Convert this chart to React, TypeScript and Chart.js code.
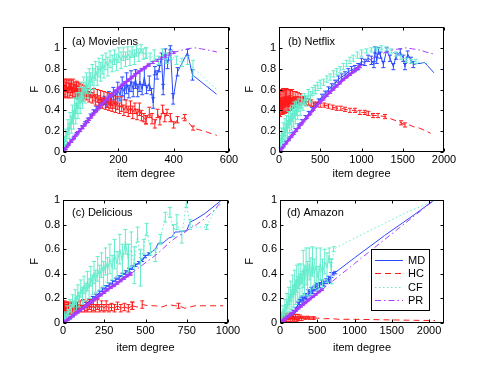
import React, { useEffect, useRef } from "react";
import { Chart, registerables } from "chart.js";

Chart.register(...registerables);

type Row = [number, number, number]; // [item degree, F, error half-width]

// ---------------- (a) Movielens ----------------
const movielensMD: Row[] = [
  [2, 0.01, 0.005], [10, 0.035, 0.01], [20, 0.07, 0.01], [30, 0.105, 0.01], [40, 0.14, 0.012], [50, 0.175, 0.012],
  [60, 0.21, 0.015], [70, 0.24, 0.015], [80, 0.275, 0.015], [90, 0.305, 0.02], [100, 0.345, 0.02], [110, 0.385, 0.02],
  [120, 0.415, 0.025], [130, 0.445, 0.03], [140, 0.475, 0.03], [150, 0.495, 0.04], [158, 0.47, 0.04], [166, 0.53, 0.05],
  [174, 0.5, 0.05], [182, 0.56, 0.06], [190, 0.53, 0.06], [198, 0.59, 0.08], [206, 0.55, 0.06], [214, 0.63, 0.09],
  [222, 0.57, 0.07], [230, 0.66, 0.1], [238, 0.58, 0.06], [246, 0.68, 0.1], [254, 0.6, 0.07], [262, 0.7, 0.09],
  [270, 0.59, 0.06], [278, 0.68, 0.1], [286, 0.6, 0.05], [294, 0.72, 0.08], [302, 0.6, 0.04], [312, 0.66, 0.07],
  [320, 0.58, 0.03], [326, 0.47, 0.05], [332, 0.78, 0.04], [340, 0.74, 0.04], [348, 0.8, 0.03], [356, 0.92, 0.03],
  [362, 0.6, 0.05], [370, 0.96, 0.03], [378, 0.84, 0.04], [388, 1.0, 0.02], [398, 0.51, 0.05], [414, 0.77, 0.04],
  [450, 0.955, 0.03], [468, 0.74, 0.05], [555, 0.555, 0],
];
const movielensHC: Row[] = [
  [1, 0.62, 0.07], [4, 0.58, 0.06], [7, 0.65, 0.05], [10, 0.6, 0.07], [13, 0.64, 0.06], [16, 0.57, 0.05],
  [19, 0.63, 0.06], [22, 0.59, 0.07], [25, 0.65, 0.05], [28, 0.6, 0.06], [31, 0.63, 0.06], [34, 0.57, 0.05],
  [37, 0.64, 0.06], [40, 0.59, 0.06], [43, 0.62, 0.05], [46, 0.58, 0.06], [49, 0.63, 0.05], [52, 0.57, 0.06],
  [55, 0.61, 0.06], [58, 0.56, 0.05], [61, 0.6, 0.06], [64, 0.57, 0.05], [67, 0.6, 0.05], [70, 0.55, 0.06],
  [74, 0.59, 0.05], [78, 0.56, 0.05], [82, 0.58, 0.05], [86, 0.54, 0.04], [90, 0.57, 0.04], [95, 0.53, 0.05],
  [100, 0.56, 0.04], [106, 0.52, 0.05], [112, 0.55, 0.06], [118, 0.5, 0.05], [124, 0.54, 0.06], [130, 0.49, 0.05],
  [136, 0.53, 0.06], [142, 0.47, 0.05], [148, 0.52, 0.06], [154, 0.46, 0.05], [160, 0.5, 0.07], [166, 0.45, 0.05],
  [172, 0.49, 0.07], [178, 0.44, 0.05], [184, 0.48, 0.06], [190, 0.43, 0.05], [196, 0.47, 0.06], [204, 0.42, 0.05],
  [212, 0.46, 0.07], [220, 0.4, 0.05], [228, 0.44, 0.06], [236, 0.39, 0.05], [244, 0.43, 0.06], [252, 0.38, 0.06],
  [260, 0.42, 0.05], [268, 0.36, 0.05], [276, 0.41, 0.06], [284, 0.35, 0.05], [292, 0.33, 0.04], [300, 0.31, 0.04],
  [312, 0.38, 0.05], [322, 0.32, 0.05], [332, 0.27, 0.04], [342, 0.37, 0.04], [350, 0.3, 0.04], [360, 0.41, 0.04],
  [368, 0.33, 0.04], [376, 0.38, 0.03], [388, 0.33, 0.04], [400, 0.26, 0.03], [414, 0.31, 0.03], [440, 0.33, 0.03],
  [470, 0.23, 0.02], [510, 0.2, 0], [556, 0.16, 0],
];
const movielensCF: Row[] = [
  [2, 0.03, 0.02], [6, 0.1, 0.05], [10, 0.16, 0.06], [14, 0.13, 0.06], [18, 0.24, 0.07], [22, 0.2, 0.07],
  [26, 0.3, 0.08], [30, 0.26, 0.08], [34, 0.36, 0.09], [38, 0.31, 0.09], [42, 0.42, 0.1], [46, 0.37, 0.1],
  [50, 0.47, 0.1], [54, 0.42, 0.1], [58, 0.52, 0.1], [62, 0.47, 0.1], [66, 0.57, 0.1], [70, 0.52, 0.1],
  [75, 0.62, 0.1], [80, 0.57, 0.1], [85, 0.66, 0.1], [90, 0.62, 0.1], [95, 0.7, 0.1], [100, 0.66, 0.1],
  [106, 0.74, 0.1], [112, 0.7, 0.1], [118, 0.78, 0.09], [124, 0.73, 0.09], [130, 0.81, 0.09], [136, 0.77, 0.09],
  [142, 0.84, 0.09], [148, 0.8, 0.09], [155, 0.87, 0.08], [162, 0.82, 0.09], [170, 0.89, 0.08], [178, 0.85, 0.08],
  [186, 0.91, 0.07], [194, 0.86, 0.08], [202, 0.93, 0.07], [210, 0.88, 0.08], [218, 0.94, 0.06], [226, 0.89, 0.07],
  [234, 0.95, 0.06], [242, 0.9, 0.07], [250, 0.96, 0.05], [258, 0.91, 0.07], [266, 0.97, 0.05], [274, 0.93, 0.06],
  [282, 0.99, 0.04], [290, 0.94, 0.05], [300, 0.95, 0.05], [315, 0.9, 0.05], [330, 0.93, 0.05], [345, 0.88, 0.04],
  [360, 0.94, 0.05], [375, 0.9, 0.05], [390, 0.93, 0.04], [410, 0.88, 0.04], [430, 0.86, 0.04], [450, 0.88, 0.04],
  [470, 0.8, 0.08], [500, 0.74, 0], [530, 0.66, 0], [556, 0.6, 0],
];
const movielensPR: Row[] = [
  [1, 0.005, 0.01], [8, 0.03, 0.01], [15, 0.055, 0.01], [22, 0.08, 0.012], [30, 0.105, 0.012], [38, 0.13, 0.012],
  [46, 0.16, 0.012], [54, 0.185, 0.012], [62, 0.21, 0.012], [70, 0.235, 0.012], [78, 0.26, 0.012], [86, 0.29, 0.012],
  [94, 0.315, 0.012], [102, 0.34, 0.012], [110, 0.365, 0.012], [118, 0.39, 0.012], [126, 0.415, 0.012], [134, 0.44, 0.012],
  [142, 0.46, 0.012], [150, 0.485, 0.012], [160, 0.51, 0.012], [170, 0.535, 0.012], [180, 0.56, 0.012], [190, 0.585, 0.012],
  [200, 0.61, 0.012], [212, 0.64, 0.012], [224, 0.665, 0.012], [236, 0.69, 0.012], [248, 0.715, 0.012], [260, 0.74, 0.012],
  [272, 0.765, 0.012], [284, 0.79, 0.012], [296, 0.81, 0.012], [310, 0.835, 0.01], [325, 0.86, 0.01], [340, 0.88, 0.01],
  [355, 0.9, 0.01], [370, 0.92, 0.01], [385, 0.94, 0.01], [400, 0.955, 0.01], [420, 0.97, 0], [440, 0.985, 0],
  [460, 0.995, 0], [480, 1.0, 0], [500, 0.99, 0], [520, 0.98, 0], [540, 0.97, 0], [556, 0.96, 0],
];

// ---------------- (b) Netflix ----------------
const netflixMD: Row[] = [
  [1, 0.005, 0.01], [40, 0.045, 0.01], [80, 0.09, 0.012], [120, 0.13, 0.015], [160, 0.17, 0.015], [200, 0.21, 0.015],
  [240, 0.25, 0.02], [280, 0.29, 0.02], [320, 0.33, 0.02], [360, 0.37, 0.02], [400, 0.41, 0.02], [440, 0.45, 0.02],
  [480, 0.49, 0.02], [520, 0.53, 0.025], [560, 0.56, 0.025], [600, 0.6, 0.025], [640, 0.63, 0.025], [680, 0.66, 0.03],
  [720, 0.7, 0.03], [760, 0.72, 0.03], [800, 0.74, 0.03], [840, 0.77, 0.03], [880, 0.79, 0.03], [920, 0.8, 0.03],
  [960, 0.82, 0.03], [1000, 0.87, 0.03], [1040, 0.86, 0.03], [1080, 0.9, 0.03], [1120, 0.88, 0.04], [1150, 0.84, 0.03],
  [1165, 0.98, 0.03], [1185, 0.88, 0.03], [1205, 0.97, 0.03], [1230, 0.93, 0.03], [1265, 0.84, 0.03], [1305, 0.98, 0.02],
  [1345, 0.9, 0.03], [1386, 0.82, 0.03], [1420, 0.92, 0.03], [1470, 0.96, 0.03], [1507, 0.9, 0.03], [1527, 0.82, 0.03],
  [1560, 0.94, 0.03], [1600, 0.88, 0.03], [1628, 0.84, 0.03], [1680, 0.85, 0], [1709, 0.85, 0], [1760, 0.86, 0],
  [1800, 0.83, 0], [1878, 0.76, 0],
];
const netflixHC: Row[] = [
  [1, 0.45, 0.1], [8, 0.5, 0.09], [15, 0.42, 0.08], [22, 0.52, 0.08], [29, 0.44, 0.08], [36, 0.5, 0.08],
  [43, 0.43, 0.07], [50, 0.53, 0.08], [57, 0.45, 0.07], [64, 0.51, 0.08], [71, 0.44, 0.07], [78, 0.52, 0.08],
  [85, 0.46, 0.07], [92, 0.53, 0.08], [100, 0.45, 0.07], [108, 0.52, 0.08], [116, 0.46, 0.07], [124, 0.53, 0.07],
  [132, 0.47, 0.07], [140, 0.52, 0.07], [150, 0.46, 0.06], [160, 0.53, 0.07], [170, 0.47, 0.05], [180, 0.52, 0.06],
  [192, 0.48, 0.05], [204, 0.53, 0.05], [216, 0.48, 0.05], [230, 0.52, 0.05], [245, 0.49, 0.04], [260, 0.52, 0.04],
  [280, 0.49, 0.03], [300, 0.5, 0.03], [330, 0.48, 0.03], [360, 0.48, 0.03], [390, 0.47, 0.03], [420, 0.46, 0.02],
  [460, 0.46, 0.02], [500, 0.45, 0.02], [550, 0.45, 0.02], [600, 0.44, 0.02], [650, 0.43, 0.02], [700, 0.42, 0.02],
  [750, 0.42, 0.02], [800, 0.41, 0.02], [860, 0.4, 0.02], [921, 0.4, 0.02], [980, 0.38, 0.02], [1040, 0.38, 0.02],
  [1083, 0.37, 0.02], [1140, 0.35, 0.02], [1200, 0.35, 0.02], [1285, 0.34, 0.02], [1350, 0.32, 0], [1420, 0.3, 0],
  [1480, 0.28, 0.02], [1527, 0.26, 0.02], [1580, 0.26, 0], [1640, 0.24, 0], [1700, 0.23, 0], [1760, 0.21, 0],
  [1838, 0.18, 0],
];
const netflixCF: Row[] = [
  [2, 0.03, 0.03], [12, 0.1, 0.06], [22, 0.07, 0.06], [32, 0.16, 0.07], [42, 0.11, 0.07], [52, 0.2, 0.08],
  [62, 0.15, 0.07], [72, 0.24, 0.08], [82, 0.19, 0.08], [92, 0.27, 0.08], [102, 0.22, 0.08], [114, 0.31, 0.08],
  [126, 0.26, 0.08], [138, 0.34, 0.08], [150, 0.29, 0.08], [162, 0.37, 0.08], [174, 0.32, 0.08], [186, 0.4, 0.08],
  [198, 0.35, 0.08], [212, 0.42, 0.07], [226, 0.38, 0.07], [240, 0.45, 0.06], [256, 0.41, 0.06], [272, 0.48, 0.06],
  [290, 0.45, 0.05], [310, 0.51, 0.05], [330, 0.49, 0.05], [355, 0.55, 0.05], [380, 0.53, 0.05], [410, 0.58, 0.04],
  [440, 0.6, 0.04], [470, 0.63, 0.04], [500, 0.65, 0.04], [540, 0.67, 0.03], [580, 0.7, 0.03], [620, 0.72, 0.03],
  [660, 0.75, 0.03], [700, 0.77, 0.03], [740, 0.79, 0.03], [780, 0.82, 0.03], [820, 0.85, 0.03], [860, 0.88, 0.03],
  [900, 0.9, 0.03], [950, 0.93, 0.03], [1000, 0.95, 0.03], [1060, 0.97, 0.02], [1120, 0.98, 0.02], [1180, 0.99, 0.02],
  [1240, 1.0, 0.02], [1300, 0.99, 0.02], [1360, 0.97, 0.02], [1420, 0.94, 0.02], [1480, 0.91, 0.02], [1540, 0.88, 0.02],
  [1600, 0.87, 0.02], [1660, 0.87, 0.02], [1720, 0.86, 0], [1800, 0.85, 0],
];
const netflixPR: Row[] = [
  [1, 0.003, 0.01], [30, 0.03, 0.01], [60, 0.06, 0.012], [90, 0.09, 0.012], [120, 0.12, 0.012], [150, 0.15, 0.012],
  [180, 0.18, 0.012], [210, 0.21, 0.012], [240, 0.24, 0.012], [270, 0.27, 0.012], [300, 0.3, 0.012], [340, 0.335, 0.012],
  [380, 0.37, 0.012], [420, 0.41, 0.012], [460, 0.45, 0.012], [500, 0.48, 0.012], [540, 0.51, 0.012], [580, 0.545, 0.012],
  [620, 0.575, 0.012], [660, 0.605, 0.012], [700, 0.635, 0.012], [740, 0.665, 0.012], [780, 0.695, 0.01], [820, 0.72, 0.01],
  [860, 0.745, 0.01], [900, 0.77, 0.01], [940, 0.795, 0.01], [980, 0.82, 0.01], [1060, 0.86, 0], [1120, 0.89, 0],
  [1180, 0.92, 0], [1240, 0.94, 0], [1300, 0.96, 0], [1380, 0.98, 0], [1460, 0.99, 0], [1540, 1.0, 0],
  [1620, 0.99, 0], [1700, 0.98, 0], [1780, 0.96, 0], [1880, 0.94, 0],
];

// ---------------- (c) Delicious ----------------
const deliciousMD: Row[] = [
  [1, 0.002, 0.005], [20, 0.02, 0.008], [40, 0.04, 0.01], [60, 0.06, 0.01], [80, 0.085, 0.01], [100, 0.11, 0.012],
  [120, 0.13, 0.012], [140, 0.155, 0.012], [160, 0.18, 0.015], [180, 0.2, 0.015], [200, 0.22, 0.015], [220, 0.245, 0.015],
  [240, 0.27, 0.015], [260, 0.29, 0.015], [280, 0.31, 0.015], [300, 0.33, 0.015], [320, 0.35, 0.015], [340, 0.37, 0.015],
  [360, 0.39, 0.015], [380, 0.41, 0.015], [400, 0.43, 0.015], [420, 0.45, 0.015], [440, 0.47, 0.01], [460, 0.49, 0.01],
  [480, 0.51, 0.01], [497, 0.54, 0.01], [520, 0.56, 0.01], [540, 0.58, 0], [560, 0.6, 0], [578, 0.65, 0],
  [606, 0.65, 0], [640, 0.69, 0], [660, 0.7, 0], [679, 0.74, 0], [700, 0.74, 0], [749, 0.75, 0],
  [770, 0.82, 0], [800, 0.84, 0], [860, 0.89, 0], [962, 1.0, 0],
];
const deliciousHC: Row[] = [
  [1, 0.12, 0.05], [5, 0.1, 0.05], [9, 0.14, 0.04], [13, 0.09, 0.04], [17, 0.13, 0.04], [21, 0.1, 0.04],
  [25, 0.14, 0.03], [29, 0.11, 0.04], [33, 0.14, 0.03], [37, 0.1, 0.03], [41, 0.13, 0.03], [46, 0.11, 0.03],
  [51, 0.14, 0.03], [56, 0.11, 0.03], [62, 0.13, 0.03], [68, 0.11, 0.03], [74, 0.14, 0.03], [80, 0.12, 0.03],
  [88, 0.14, 0.03], [96, 0.12, 0.03], [104, 0.15, 0.03], [112, 0.12, 0.03], [120, 0.15, 0.04], [130, 0.12, 0.03],
  [140, 0.14, 0.04], [150, 0.12, 0.03], [160, 0.15, 0.04], [172, 0.12, 0.03], [184, 0.14, 0.04], [196, 0.12, 0.03],
  [208, 0.15, 0.04], [220, 0.12, 0.03], [234, 0.14, 0.04], [248, 0.12, 0.03], [262, 0.14, 0.04], [278, 0.12, 0.03],
  [294, 0.13, 0.03], [312, 0.12, 0.03], [330, 0.14, 0.03], [350, 0.12, 0.03], [372, 0.13, 0.03], [396, 0.12, 0.03],
  [420, 0.14, 0.03], [450, 0.13, 0], [480, 0.15, 0.03], [520, 0.14, 0], [560, 0.14, 0], [600, 0.13, 0],
  [640, 0.15, 0], [680, 0.14, 0], [700, 0.14, 0.02], [740, 0.12, 0], [800, 0.14, 0], [860, 0.14, 0],
  [920, 0.14, 0], [970, 0.14, 0],
];
const deliciousCF: Row[] = [
  [2, 0.02, 0.02], [10, 0.06, 0.03], [18, 0.04, 0.03], [26, 0.1, 0.04], [34, 0.07, 0.04], [42, 0.14, 0.05],
  [50, 0.1, 0.05], [58, 0.18, 0.05], [66, 0.13, 0.05], [74, 0.21, 0.06], [82, 0.16, 0.06], [90, 0.25, 0.06],
  [98, 0.19, 0.06], [108, 0.28, 0.07], [118, 0.22, 0.07], [128, 0.31, 0.07], [138, 0.25, 0.07], [148, 0.34, 0.08],
  [158, 0.28, 0.08], [168, 0.38, 0.08], [178, 0.31, 0.08], [188, 0.41, 0.09], [198, 0.34, 0.09], [210, 0.44, 0.1],
  [222, 0.37, 0.1], [234, 0.47, 0.1], [246, 0.4, 0.1], [258, 0.5, 0.11], [270, 0.43, 0.1], [284, 0.52, 0.12],
  [298, 0.45, 0.1], [312, 0.56, 0.12], [328, 0.48, 0.1], [344, 0.6, 0.12], [360, 0.5, 0.14], [378, 0.66, 0.1],
  [396, 0.52, 0.12], [414, 0.6, 0.14], [432, 0.47, 0.15], [452, 0.72, 0.06], [470, 0.45, 0.15], [490, 0.62, 0.06],
  [507, 0.76, 0.05], [530, 0.6, 0.05], [560, 0.55, 0.05], [590, 0.68, 0.04], [620, 0.86, 0.04], [648, 0.9, 0.04],
  [670, 0.75, 0.05], [690, 0.82, 0.06], [720, 0.7, 0.05], [747, 0.97, 0.03], [770, 0.8, 0.04], [810, 0.78, 0],
  [871, 0.78, 0.02], [920, 0.92, 0], [962, 0.97, 0],
];
const deliciousPR: Row[] = [
  [1, 0.002, 0.006], [15, 0.015, 0.008], [30, 0.03, 0.01], [45, 0.045, 0.01], [60, 0.06, 0.01], [75, 0.075, 0.01],
  [90, 0.09, 0.01], [105, 0.105, 0.01], [120, 0.12, 0.01], [135, 0.135, 0.01], [150, 0.15, 0.01], [170, 0.17, 0.01],
  [190, 0.19, 0.01], [210, 0.21, 0.01], [230, 0.23, 0.01], [250, 0.25, 0.01], [270, 0.27, 0.01], [290, 0.29, 0.01],
  [310, 0.305, 0.01], [330, 0.325, 0.01], [350, 0.345, 0.01], [370, 0.365, 0.01], [390, 0.385, 0.01], [410, 0.4, 0.01],
  [450, 0.44, 0], [490, 0.48, 0], [530, 0.52, 0], [570, 0.56, 0], [610, 0.61, 0], [650, 0.66, 0],
  [690, 0.7, 0], [730, 0.73, 0], [770, 0.77, 0], [810, 0.8, 0], [860, 0.85, 0], [920, 0.92, 0], [965, 1.0, 0],
];

// ---------------- (d) Amazon ----------------
const amazonMD: Row[] = [
  [1, 0.003, 0.005], [30, 0.015, 0.008], [60, 0.03, 0.01], [90, 0.045, 0.01], [120, 0.06, 0.01], [150, 0.075, 0.012],
  [180, 0.09, 0.012], [210, 0.11, 0.015], [240, 0.15, 0.02], [260, 0.17, 0.02], [280, 0.19, 0.02], [300, 0.2, 0.02],
  [320, 0.19, 0.02], [340, 0.22, 0.02], [360, 0.21, 0.02], [380, 0.25, 0.02], [400, 0.24, 0.02], [420, 0.27, 0.02],
  [440, 0.26, 0.02], [460, 0.28, 0.02], [480, 0.29, 0.02], [500, 0.3, 0.02], [530, 0.31, 0.02], [560, 0.33, 0.02],
  [590, 0.32, 0.02], [620, 0.34, 0.02], [650, 0.36, 0.02], [670, 0.35, 0.02], [690, 0.39, 0.02], [710, 0.4, 0.01],
  [740, 0.41, 0.01], [1000, 0.53, 0], [1400, 0.71, 0], [1800, 0.88, 0], [2070, 1.0, 0],
];
const amazonHC: Row[] = [
  [1, 0.04, 0.02], [12, 0.03, 0.02], [24, 0.05, 0.02], [36, 0.03, 0.02], [48, 0.06, 0.02], [60, 0.03, 0.02],
  [72, 0.05, 0.02], [84, 0.03, 0.02], [96, 0.06, 0.02], [108, 0.03, 0.02], [120, 0.05, 0.02], [135, 0.03, 0.02],
  [150, 0.055, 0.02], [165, 0.035, 0.02], [180, 0.05, 0.02], [195, 0.035, 0.02], [210, 0.05, 0.02], [225, 0.03, 0.02],
  [240, 0.05, 0.02], [255, 0.035, 0.015], [270, 0.05, 0.015], [290, 0.035, 0.015], [310, 0.045, 0.01], [340, 0.04, 0.01],
  [370, 0.045, 0.01], [400, 0.04, 0.01], [450, 0.04, 0.01], [500, 0.04, 0], [600, 0.035, 0], [700, 0.035, 0],
  [800, 0.03, 0], [1000, 0.03, 0], [1200, 0.028, 0], [1500, 0.025, 0], [1800, 0.022, 0], [2080, 0.02, 0],
];
const amazonCF: Row[] = [
  [2, 0.02, 0.02], [15, 0.06, 0.03], [28, 0.04, 0.03], [41, 0.1, 0.04], [54, 0.07, 0.04], [67, 0.14, 0.05],
  [80, 0.1, 0.05], [93, 0.18, 0.06], [106, 0.13, 0.06], [119, 0.22, 0.07], [132, 0.16, 0.07], [145, 0.26, 0.08],
  [158, 0.19, 0.08], [171, 0.3, 0.09], [184, 0.22, 0.09], [197, 0.33, 0.1], [210, 0.25, 0.1], [224, 0.36, 0.11],
  [238, 0.28, 0.1], [252, 0.38, 0.1], [266, 0.3, 0.1], [280, 0.4, 0.08], [296, 0.32, 0.1], [312, 0.44, 0.15],
  [330, 0.35, 0.12], [350, 0.46, 0.15], [370, 0.36, 0.14], [392, 0.48, 0.13], [414, 0.38, 0.15], [436, 0.5, 0.12],
  [460, 0.4, 0.12], [486, 0.47, 0.14], [512, 0.36, 0.1], [540, 0.48, 0.13], [570, 0.4, 0.12], [600, 0.5, 0.1],
  [630, 0.45, 0.12], [660, 0.55, 0.06], [690, 0.42, 0.1], [720, 0.6, 0.02], [900, 0.66, 0], [1100, 0.72, 0],
  [1300, 0.78, 0], [1500, 0.84, 0], [1700, 0.9, 0], [1900, 0.95, 0], [2080, 1.0, 0],
];
const amazonPR: Row[] = [
  [1, 0.001, 0.004], [20, 0.01, 0.005], [40, 0.02, 0.006], [60, 0.03, 0.006], [80, 0.04, 0.007], [100, 0.05, 0.007],
  [130, 0.064, 0.007], [160, 0.078, 0.007], [190, 0.092, 0.007], [220, 0.106, 0.007], [250, 0.121, 0.007], [280, 0.135, 0.007],
  [310, 0.15, 0.007], [340, 0.164, 0.007], [370, 0.18, 0.007], [400, 0.195, 0.007], [440, 0.213, 0.006], [480, 0.232, 0.006],
  [520, 0.252, 0.006], [560, 0.27, 0.006], [600, 0.29, 0], [700, 0.338, 0], [800, 0.387, 0], [900, 0.434, 0],
  [1000, 0.483, 0], [1200, 0.58, 0], [1400, 0.677, 0], [1600, 0.773, 0], [1800, 0.87, 0], [2070, 1.0, 0],
];

// ---------------- ticks & labels ----------------
const movielensXTicks = [0, 200, 400, 600];
const netflixXTicks = [0, 500, 1000, 1500, 2000];
const deliciousXTicks = [0, 250, 500, 750, 1000];
const amazonXTicks = [0, 500, 1000, 1500, 2000];
const fTicks = [0, 0.2, 0.4, 0.6, 0.8, 1];
const seriesLabels = ["MD", "HC", "CF", "PR"];

// ---------------- styles ----------------
const FONT_FAMILY = '"Liberation Sans", Arial, Helvetica, sans-serif';
const SERIES_STYLE = [
  { color: "#2a4bff", dash: [] as number[], denseWidth: 1 },
  { color: "#ff1a1a", dash: [6, 4], denseWidth: 1 },
  { color: "#62eccb", dash: [1.5, 2.5], denseWidth: 1 },
  { color: "#a63cff", dash: [6, 3, 1.5, 3], denseWidth: 2.6 },
];

type PanelDef = {
  key: string;
  label: string;
  series: Row[][];
  denseUntil: number[]; // per series: where the overlapping (visually solid) part ends
  xMax: number;
  yMax: number;
  xTicks: number[];
  area: { l: number; r: number; t: number; b: number };
  yTitleX: number;
  xTitleY: number;
  labelPos: [number, number];
  legend?: { l: number; r: number; t: number; b: number };
};

const PANELS: PanelDef[] = [
  {
    key: "a", label: "(a) Movielens", series: [movielensMD, movielensHC, movielensCF, movielensPR],
    denseUntil: [1e9, 300, 300, 310],
    xMax: 600, yMax: 1.2, xTicks: movielensXTicks,
    area: { l: 63, r: 229, t: 27, b: 152 }, yTitleX: 35, xTitleY: 174, labelPos: [72, 41.5],
  },
  {
    key: "b", label: "(b) Netflix", series: [netflixMD, netflixHC, netflixCF, netflixPR],
    denseUntil: [1e9, 300, 440, 980],
    xMax: 2000, yMax: 1.2, xTicks: netflixXTicks,
    area: { l: 279, r: 444, t: 27, b: 152 }, yTitleX: 250, xTitleY: 174, labelPos: [288, 41.5],
  },
  {
    key: "c", label: "(c) Delicious", series: [deliciousMD, deliciousHC, deliciousCF, deliciousPR],
    denseUntil: [1e9, 420, 400, 410],
    xMax: 1000, yMax: 1, xTicks: deliciousXTicks,
    area: { l: 63, r: 228, t: 200, b: 323 }, yTitleX: 35, xTitleY: 347.5, labelPos: [72, 212.5],
  },
  {
    key: "d", label: "(d) Amazon", series: [amazonMD, amazonHC, amazonCF, amazonPR],
    denseUntil: [1e9, 450, 700, 560],
    xMax: 2200, yMax: 1, xTicks: amazonXTicks,
    area: { l: 280, r: 444, t: 200, b: 323 }, yTitleX: 250, xTitleY: 347.5, labelPos: [287, 212.5],
    legend: { l: 371, r: 430, t: 249, b: 311 },
  },
];

const W = 491;
const H = 365;

const errorBarPlugin = {
  id: "errorBars",
  afterDatasetDraw(chart: any, args: any) {
    const ds = chart.data.datasets[args.index];
    const errs: number[] | undefined = ds.errors;
    if (!errs) return;
    const xs = chart.scales.x;
    const ys = chart.scales.y;
    const a = chart.chartArea;
    const ctx = chart.ctx;
    ctx.save();
    ctx.beginPath();
    ctx.rect(a.left, a.top, a.right - a.left, a.bottom - a.top);
    ctx.clip();
    ctx.strokeStyle = ds.borderColor;
    ctx.lineWidth = 1;
    ctx.setLineDash([]);
    ctx.beginPath();
    ds.data.forEach((p: any, i: number) => {
      const e = errs[i];
      if (!e) return;
      const x = xs.getPixelForValue(p.x);
      const y1 = ys.getPixelForValue(p.y - e);
      const y2 = ys.getPixelForValue(p.y + e);
      ctx.moveTo(x, y1);
      ctx.lineTo(x, y2);
      ctx.moveTo(x - 2, y1);
      ctx.lineTo(x + 2, y1);
      ctx.moveTo(x - 2, y2);
      ctx.lineTo(x + 2, y2);
    });
    ctx.stroke();
    ctx.restore();
  },
};

const framePlugin = {
  id: "frame",
  afterDraw(chart: any, _args: any, opts: any) {
    const { ctx, chartArea: a, scales } = chart;
    ctx.save();
    ctx.strokeStyle = "#000";
    ctx.lineWidth = 1;
    ctx.setLineDash([]);
    const L = a.left + 0.5, R = a.right - 0.5, T = a.top + 0.5, B = a.bottom - 0.5;
    ctx.strokeRect(L, T, R - L, B - T);
    ctx.beginPath();
    scales.x.ticks.forEach((t: any) => {
      const x = Math.round(scales.x.getPixelForValue(t.value)) + 0.5;
      ctx.moveTo(x, B); ctx.lineTo(x, B - 3);
      ctx.moveTo(x, T); ctx.lineTo(x, T + 3);
    });
    scales.y.ticks.forEach((t: any) => {
      const y = Math.round(scales.y.getPixelForValue(t.value)) + 0.5;
      ctx.moveTo(L, y); ctx.lineTo(L + 3, y);
      ctx.moveTo(R, y); ctx.lineTo(R - 3, y);
    });
    ctx.stroke();

    ctx.fillStyle = "#000";
    ctx.font = `11px ${FONT_FAMILY}`;
    ctx.textBaseline = "middle";
    ctx.textAlign = "left";
    ctx.fillText(opts.label, opts.labelPos[0], opts.labelPos[1]);

    const lg = opts.legend;
    if (lg) {
      ctx.fillStyle = "#fff";
      ctx.fillRect(lg.l, lg.t, lg.r - lg.l, lg.b - lg.t);
      ctx.strokeStyle = "#000";
      ctx.strokeRect(lg.l + 0.5, lg.t + 0.5, lg.r - lg.l - 1, lg.b - lg.t - 1);
      const rowH = (lg.b - lg.t - 8) / 4;
      seriesLabels.forEach((name, i) => {
        const y = Math.round(lg.t + 4 + rowH * (i + 0.5)) + 0.5;
        ctx.strokeStyle = SERIES_STYLE[i].color;
        ctx.lineWidth = 1;
        ctx.setLineDash(SERIES_STYLE[i].dash);
        ctx.beginPath();
        ctx.moveTo(lg.l + 4, y);
        ctx.lineTo(lg.l + 32, y);
        ctx.stroke();
        ctx.setLineDash([]);
        ctx.fillStyle = "#000";
        ctx.fillText(name, lg.l + 37, y);
      });
    }
    ctx.restore();
  },
};

function buildDatasets(p: PanelDef) {
  const out: any[] = [];
  p.series.forEach((rows, i) => {
    const st = SERIES_STYLE[i];
    const split = p.denseUntil[i];
    const dense = rows.filter((r) => r[0] <= split);
    const lastDense = dense.length ? dense[dense.length - 1][0] : -Infinity;
    const sparse = rows.filter((r) => r[0] >= lastDense);
    const mk = (part: Row[], solid: boolean) => ({
      label: seriesLabels[i],
      data: part.map((r) => ({ x: r[0], y: r[1] })),
      errors: part.map((r) => r[2]),
      borderColor: st.color,
      backgroundColor: st.color,
      borderWidth: solid ? st.denseWidth : 1,
      borderDash: solid ? [] : st.dash,
      pointRadius: 0,
      pointHoverRadius: 0,
      fill: false,
      tension: 0,
      order: 4 - i,
    });
    if (dense.length > 1) out.push(mk(dense, true));
    if (sparse.length > 1) out.push(mk(sparse, false));
  });
  return out;
}

function buildConfig(p: PanelDef): any {
  const font = { family: FONT_FAMILY, size: 11 };
  const yAxisLeft = p.yTitleX - 6.6;
  const xAxisBottom = p.xTitleY + 6.6;
  return {
    type: "line",
    data: { datasets: buildDatasets(p) },
    options: {
      responsive: false,
      animation: false,
      devicePixelRatio: 1,
      events: [],
      layout: {
        autoPadding: false,
        padding: {
          left: yAxisLeft,
          top: p.area.t,
          right: W - p.area.r,
          bottom: H - xAxisBottom,
        },
      },
      plugins: {
        legend: { display: false },
        tooltip: { enabled: false },
        frame: { label: p.label, labelPos: p.labelPos, legend: p.legend },
      },
      scales: {
        x: {
          type: "linear",
          position: "bottom",
          min: 0,
          max: p.xMax,
          grid: { display: false, drawTicks: false },
          border: { display: false },
          ticks: {
            font, color: "#000", padding: 1, maxRotation: 0, autoSkip: false,
            callback: (v: number) => String(v),
          },
          afterBuildTicks: (ax: any) => { ax.ticks = p.xTicks.map((v) => ({ value: v })); },
          afterFit: (ax: any) => {
            ax.height = xAxisBottom - p.area.b;
            ax.paddingLeft = 0;
            ax.paddingRight = 0;
          },
          title: { display: true, text: "item degree", font, color: "#000", padding: 0 },
        },
        y: {
          type: "linear",
          position: "left",
          min: 0,
          max: p.yMax,
          grid: { display: false, drawTicks: false },
          border: { display: false },
          ticks: {
            font, color: "#000", padding: 3,
            callback: (v: number) => String(Math.round(v * 10) / 10),
          },
          afterBuildTicks: (ax: any) => { ax.ticks = fTicks.map((v) => ({ value: v })); },
          afterFit: (ax: any) => {
            ax.width = p.area.l - yAxisLeft;
            ax.paddingTop = 0;
            ax.paddingBottom = 0;
          },
          title: { display: true, text: "F", font, color: "#000", padding: 0 },
        },
      },
    },
    plugins: [errorBarPlugin, framePlugin],
  };
}

function Panel({ panel }: { panel: PanelDef }) {
  const ref = useRef<HTMLCanvasElement | null>(null);
  useEffect(() => {
    if (!ref.current) return;
    const chart = new Chart(ref.current, buildConfig(panel));
    return () => chart.destroy();
  }, [panel]);
  return (
    <canvas
      ref={ref}
      width={W}
      height={H}
      style={{ position: "absolute", left: 0, top: 0, width: W, height: H }}
    />
  );
}

export default function App() {
  return (
    <div style={{ position: "fixed", left: 0, top: 0, width: W, height: H, background: "#fff", overflow: "hidden" }}>
      {PANELS.map((p) => (
        <Panel key={p.key} panel={p} />
      ))}
    </div>
  );
}
